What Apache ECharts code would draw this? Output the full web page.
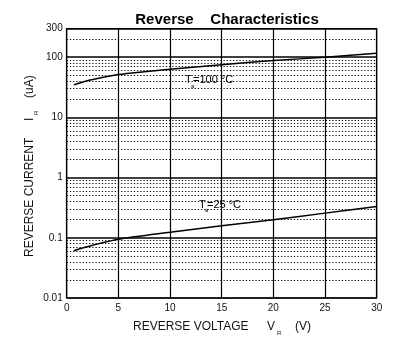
<!DOCTYPE html>
<html><head><meta charset="utf-8">
<script src="https://cdn.jsdelivr.net/npm/echarts@6/dist/echarts.min.js"></script>
<style>html,body{margin:0;padding:0;background:#fff}#c{width:398px;height:358px}</style>
</head><body><div id="c"></div>
<script>
var xTicks = [0, 5, 10, 15, 20, 25, 30];
var yTicks = [0.01, 0.1, 1, 10, 100, 300];
var minorGrid = [0.02,0.03,0.04,0.05,0.06,0.07,0.08,0.09,
  0.2,0.3,0.4,0.5,0.6,0.7,0.8,0.9,
  2,3,4,5,6,7,8,9,
  20,30,40,50,60,70,80,90,
  200];
var vr100 = [0.7, 1.5, 2.5, 5, 7.5, 10, 15, 20, 25, 30];
var ir100 = [35, 38.5, 42.5, 51.5, 57.5, 63, 75, 88, 100, 116];
var vr25 = [0.7, 2.5, 5, 10, 15, 20, 25, 30];
var ir25 = [0.061, 0.075, 0.095, 0.124, 0.158, 0.2, 0.257, 0.33];

var FONT = 'Liberation Sans';
function pairs(xs, ys){ return xs.map(function(x,i){ return [x, ys[i]]; }); }

var chart = echarts.init(document.getElementById('c'), null, {renderer:'canvas'});
chart.setOption({
  animation:false,
  backgroundColor:'#fff',
  title:{text:'Reverse    Characteristics', left:222, top:7, textAlign:'center',
    textStyle:{fontFamily:FONT, fontSize:15, fontWeight:'bold', color:'#000'}},
  grid:{left:66.7, right:21.3, top:28.5, bottom:60, show:true, borderColor:'#000', borderWidth:1.2, backgroundColor:'transparent'},
  xAxis:{type:'value', min:xTicks[0], max:xTicks[xTicks.length-1], interval:5,
    axisLine:{show:false}, axisTick:{show:false},
    axisLabel:{fontFamily:FONT, fontSize:10, color:'#111', margin:5},
    splitLine:{show:true, lineStyle:{color:'#000', width:1.2}}},
  yAxis:{type:'log', logBase:10, min:yTicks[0], max:yTicks[yTicks.length-1],
    axisLine:{show:false}, axisTick:{show:false},
    axisLabel:{fontFamily:FONT, fontSize:10, color:'#111', margin:4,
      formatter:function(v){ var r = yTicks.filter(function(t){return Math.abs(Math.log10(t)-Math.log10(v))<1e-6;}); return r.length? String(r[0]) : ''; }},
    splitLine:{show:true, lineStyle:{color:'#000', width:1.5}}},
  series:[
    {type:'line', data:pairs(vr25, ir25), smooth:0.3, symbol:'none',
      lineStyle:{color:'#000', width:1.5}, z:3,
      markLine:{silent:true, symbol:['none','none'], label:{show:false},
        lineStyle:{color:'#000', width:1.1, type:[1.2,2]},
        data:minorGrid.map(function(v){return {yAxis:v};}), animation:false}},
    {type:'line', data:pairs(vr100, ir100), smooth:0.3, symbol:'none',
      lineStyle:{color:'#000', width:1.5}, z:3}
  ],
  graphic:[
    {type:'text', x:185, y:80, style:{text:'T', fontFamily:FONT, fontSize:11, fill:'#000', verticalAlign:'middle'}},
    {type:'text', x:191, y:86, style:{text:'a', fontFamily:FONT, fontSize:6, fill:'#000', verticalAlign:'middle'}},
    {type:'text', x:193, y:80, style:{text:'=100 °C', fontFamily:FONT, fontSize:11, fill:'#000', verticalAlign:'middle'}},
    {type:'text', x:199, y:204.5, style:{text:'T', fontFamily:FONT, fontSize:11, fill:'#000', verticalAlign:'middle'}},
    {type:'text', x:205, y:210.5, style:{text:'a', fontFamily:FONT, fontSize:6, fill:'#000', verticalAlign:'middle'}},
    {type:'text', x:207, y:204.5, style:{text:'=25 °C', fontFamily:FONT, fontSize:11, fill:'#000', verticalAlign:'middle'}},
    {type:'text', x:133, y:326.5, style:{text:'REVERSE VOLTAGE', fontFamily:FONT, fontSize:12, fill:'#111', verticalAlign:'middle'}},
    {type:'text', x:267, y:326.5, style:{text:'V', fontFamily:FONT, fontSize:12, fill:'#111', verticalAlign:'middle'}},
    {type:'text', x:277, y:333, style:{text:'R', fontFamily:FONT, fontSize:6, fill:'#111', verticalAlign:'middle'}},
    {type:'text', x:295, y:326.5, style:{text:'(V)', fontFamily:FONT, fontSize:12, fill:'#111', verticalAlign:'middle'}},
    {type:'group', x:30, y:257, rotation:Math.PI/2, children:[
      {type:'text', x:0, y:0, style:{text:'REVERSE CURRENT', fontFamily:FONT, fontSize:12, fill:'#111', verticalAlign:'middle'}},
      {type:'text', x:136, y:0, style:{text:'I', fontFamily:FONT, fontSize:12, fill:'#111', verticalAlign:'middle'}},
      {type:'text', x:142, y:6, style:{text:'R', fontFamily:FONT, fontSize:6, fill:'#111', verticalAlign:'middle'}},
      {type:'text', x:159, y:0, style:{text:'(uA)', fontFamily:FONT, fontSize:12, fill:'#111', verticalAlign:'middle'}}
    ]}
  ]
});
</script></body></html>
